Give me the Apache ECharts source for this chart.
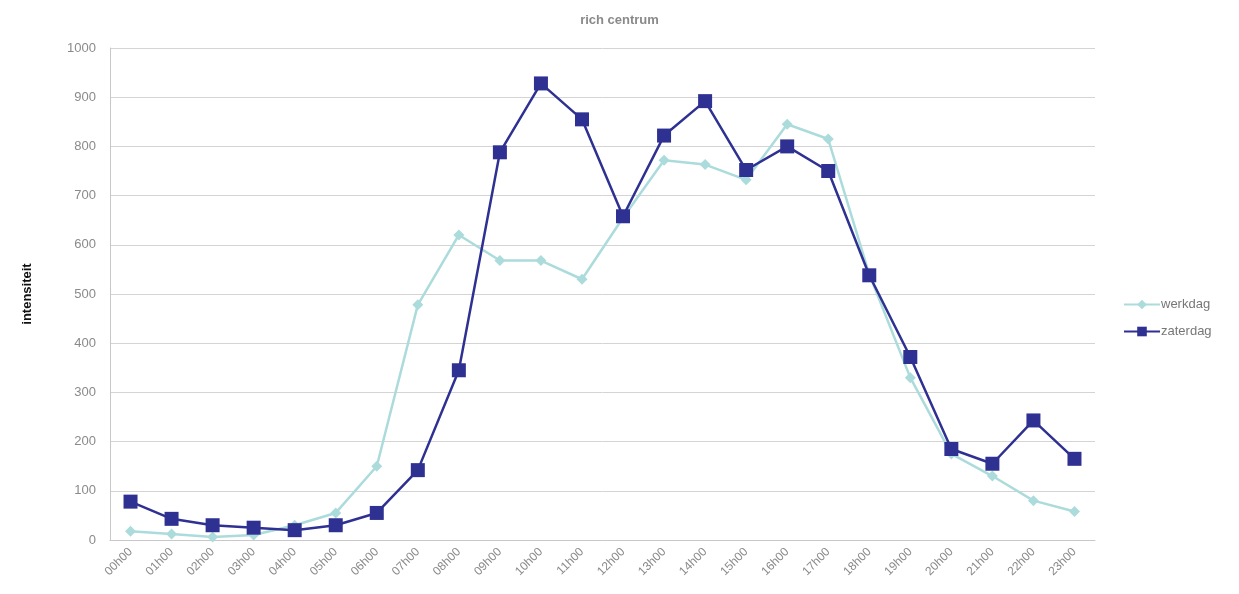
<!DOCTYPE html>
<html lang="nl">
<head>
    <meta charset="UTF-8">
    <title>rich centrum</title>
    <script type="text/javascript" src="https://cdn.jsdelivr.net/npm/echarts@6/dist/echarts.min.js"></script>
    <style>
        html, body { margin: 0; padding: 0; background: #fff; }
        #main { width: 1239px; height: 594px; }
    </style>
</head>
<body>
<div id="main"></div>
<script type="text/javascript">
    // uren van de dag
    var hours = ['00h00','01h00','02h00','03h00','04h00','05h00','06h00','07h00','08h00','09h00','10h00','11h00',
                 '12h00','13h00','14h00','15h00','16h00','17h00','18h00','19h00','20h00','21h00','22h00','23h00'];
    var werkdag = [18, 12, 6, 10, 30, 55, 150, 478, 620, 568, 568, 530,
                   655, 772, 763, 732, 845, 815, 540, 330, 175, 130, 80, 58];
    var zaterdag = [78, 43, 30, 25, 20, 30, 55, 142, 345, 788, 928, 855,
                    658, 822, 892, 752, 800, 750, 538, 372, 185, 155, 243, 165];
    var yTicks = {min: 0, max: 1000, interval: 100};

    var myChart = echarts.init(document.getElementById('main'));
    myChart.setOption({
        animation: false,
        textStyle: {fontFamily: 'Liberation Sans, Arial, sans-serif'},
        title: {
            text: 'rich centrum',
            left: 'center',
            top: 9,
            textStyle: {fontSize: 13, fontWeight: 'bold', color: '#8a8a8a'}
        },
        legend: {
            orient: 'vertical',
            left: 1118,
            top: 293,
            itemGap: 14,
            itemWidth: 36,
            itemHeight: 12,
            textStyle: {color: '#777', fontSize: 13, padding: [0, 0, 0, -4]},
            data: ['werkdag', 'zaterdag']
        },
        grid: {left: 110, right: 144, top: 48, bottom: 54},
        xAxis: {
            type: 'category',
            data: hours,
            boundaryGap: true,
            axisLine: {lineStyle: {color: '#c8c8c8'}},
            axisTick: {show: false},
            axisLabel: {rotate: 45, color: '#8a8a8a', fontSize: 12, margin: 10, interval: 0}
        },
        yAxis: {
            type: 'value',
            min: yTicks.min,
            max: yTicks.max,
            interval: yTicks.interval,
            name: 'intensiteit',
            nameLocation: 'middle',
            nameGap: 76,
            nameTextStyle: {fontSize: 13, fontWeight: 'bold', color: '#111'},
            axisLine: {show: true, lineStyle: {color: '#c8c8c8'}},
            axisTick: {show: false},
            axisLabel: {color: '#8a8a8a', fontSize: 13, margin: 14, formatter: function (v) { return String(v); }},
            splitLine: {lineStyle: {color: '#d4d4d4'}}
        },
        series: [
            {
                name: 'werkdag',
                type: 'line',
                data: werkdag,
                symbol: 'diamond',
                symbolSize: 11,
                lineStyle: {color: '#acdbdc', width: 2.5},
                itemStyle: {color: '#acdbdc'}
            },
            {
                name: 'zaterdag',
                type: 'line',
                data: zaterdag,
                symbol: 'rect',
                symbolSize: 14,
                lineStyle: {color: '#2e3192', width: 2.5},
                itemStyle: {color: '#2e3192'}
            }
        ]
    });
</script>
</body>
</html>
